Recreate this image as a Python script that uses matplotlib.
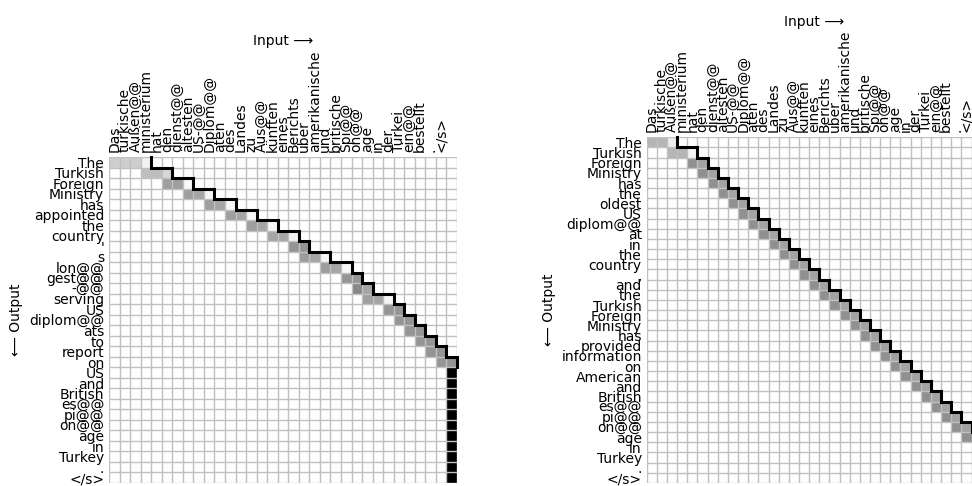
import matplotlib
matplotlib.use('Agg')
import matplotlib.pyplot as plt
import numpy as np

# Source (German) subword tokens, one per column; last column has no label
src_tokens = ['Das', 'türkische', 'Außen@@', 'ministerium', 'hat', 'den', 'dienst@@',
              'ältesten', 'US-@@', 'Diplom@@', 'aten', 'des', 'Landes', 'zu', 'Aus@@',
              'künften', 'eines', 'Berichts', 'über', 'amerikanische', 'und', 'britische',
              'Spi@@', 'on@@', 'age', 'in', 'der', 'Türkei', 'ein@@', 'bestellt', '.',
              '</s>', '']

# Left panel: output tokens and attention per row
left_tokens = ['The', 'Turkish', 'Foreign', 'Ministry', 'has', 'appointed', 'the',
               'country', "'", 's', 'lon@@', 'gest@@', '-@@', 'serving', 'US', 'diplom@@',
               'ats', 'to', 'report', 'on', 'US', 'and', 'British', 'es@@', 'pi@@', 'on@@',
               'age', 'in', 'Turkey', '.', '</s>']
left_start = [0, 3, 5, 7, 9, 11, 13, 15, 17, 18, 20, 22, 23, 24, 26, 27, 28, 29, 30, 31,
              32, 32, 32, 32, 32, 32, 32, 32, 32, 32, 32]
left_weights = [[0.3, 0.3, 0.3, 0.1], [0.37, 0.37, 0.26], [0.47, 0.47, 0.06],
                [0.47, 0.45, 0.08], [0.47, 0.45, 0.08], [0.47, 0.45, 0.08],
                [0.47, 0.45, 0.08], [0.45, 0.45, 0.1], [0.5, 0.5], [0.48, 0.45, 0.07],
                [0.48, 0.45, 0.07], [0.5, 0.5], [0.55, 0.45], [0.47, 0.45, 0.08],
                [0.5, 0.5], [0.5, 0.5], [0.5, 0.5], [0.5, 0.5], [0.5, 0.5], [0.5, 0.5]] \
               + [[1.0]] * 11
left_bound = [4, 6, 8, 10, 12, 14, 16, 18, 19, 21, 23, 24, 25, 27, 28, 29, 30, 31, 32, 33]

# Right panel
right_tokens = ['The', 'Turkish', 'Foreign', 'Ministry', 'has', 'the', 'oldest', 'US',
                'diplom@@', 'at', 'in', 'the', 'country', ',', 'and', 'the', 'Turkish',
                'Foreign', 'Ministry', 'has', 'provided', 'information', 'on', 'American',
                'and', 'British', 'es@@', 'pi@@', 'on@@', 'age', 'in', 'Turkey', '.', '</s>']
right_start = [0, 2, 4, 5, 6, 7, 8, 9, 10, 11, 12, 13, 14, 15, 16, 17, 18, 19, 20, 21,
               22, 23, 24, 25, 26, 27, 28, 29, 30, 31, 32, 32, 32, 32]
right_weights = [[0.4, 0.4, 0.15], [0.4, 0.4, 0.1]] + [[0.52, 0.46]] * 28 + [[1.0]] * 4
right_bound = [3, 5, 6, 7, 8, 9, 10, 11, 12, 13, 14, 15, 16, 17, 18, 19, 20, 21, 22, 23,
               24, 25, 26, 27, 28, 29, 30, 31, 32, 33]


def draw_panel(ax, rows, cols, start, weights, bound):
    nr, nc = len(rows), len(cols)
    mat = np.zeros((nr, nc))
    for r, (s, w) in enumerate(zip(start, weights)):
        mat[r, s:s + len(w)] = w
    ax.pcolormesh(mat, cmap='Greys', vmin=0, vmax=1)

    # cell grid
    ax.vlines(np.arange(nc + 1), 0, nr, color='#c0c0c0', lw=1.0)
    ax.hlines(np.arange(nr + 1), 0, nc, color='#c0c0c0', lw=1.0)

    # monotonic boundary as a staircase
    xs, ys = [bound[0]], [0]
    for r, b in enumerate(bound):
        xs += [b, b]
        ys += [r, r + 1]
    ax.plot(xs, ys, color='black', lw=2.2, solid_joinstyle='miter', clip_on=False)

    ax.set_xlim(0, nc)
    ax.set_ylim(nr, 0)
    ax.set_xticks(np.arange(nc) + 0.5)
    ax.set_xticklabels(cols, rotation=90, fontsize=10)
    ax.set_yticks(np.arange(nr) + 0.5)
    ax.set_yticklabels(rows, fontsize=10)
    ax.xaxis.tick_top()
    ax.xaxis.set_label_position('top')
    ax.tick_params(length=0)
    for sp in ax.spines.values():
        sp.set_visible(False)
    ax.set_xlabel('Input \u27f6', fontsize=10)
    ax.set_ylabel('\u27f5 Output', fontsize=10)


W, H = 972, 486
fig = plt.figure(figsize=(W / 100, H / 100), dpi=100)
ax1 = fig.add_axes([109 / W, 3 / H, 348 / W, 326 / H])
ax2 = fig.add_axes([646.7 / W, 3 / H, 335 / W, 345.7 / H])

draw_panel(ax1, left_tokens, src_tokens, left_start, left_weights, left_bound)
draw_panel(ax2, right_tokens, src_tokens, right_start, right_weights, right_bound)

fig.savefig('out.png', dpi=100)
